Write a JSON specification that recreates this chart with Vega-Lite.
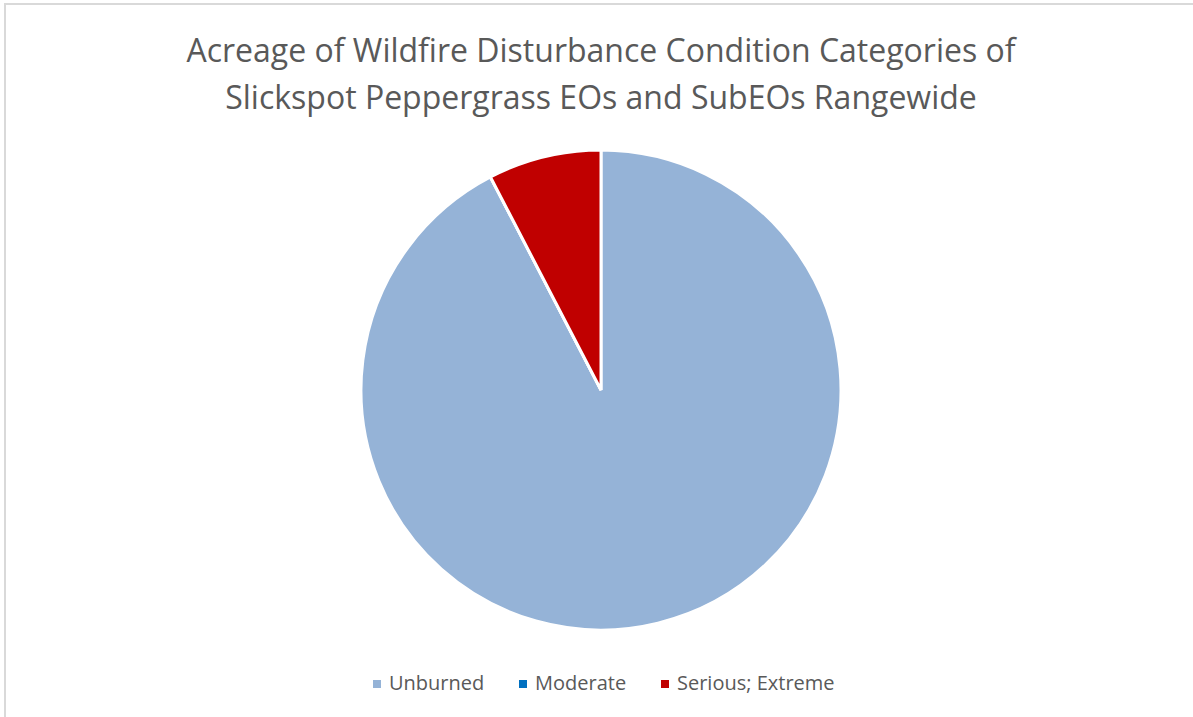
{
  "$schema": "https://vega.github.io/schema/vega-lite/v6.json",
  "autosize": {"type": "none"},
  "padding": {"left": 5, "top": 4, "right": 0, "bottom": 0},
  "width": 1192,
  "height": 772,
  "background": "white",
  "view": {"stroke": "#d9d9d9", "strokeWidth": 2},
  "title": {
    "text": ["Acreage of Wildfire Disturbance Condition Categories of", "Slickspot Peppergrass EOs and SubEOs Rangewide"],
    "orient": "top",
    "anchor": "middle",
    "frame": "group",
    "baseline": "top",
    "offset": 0,
    "dy": 112,
    "font": "Open Sans",
    "fontSize": 32,
    "fontWeight": "normal",
    "color": "#595959",
    "lineHeight": 47
  },
  "data": {
    "values": [
      {"category": "Unburned", "acres": 9238, "order": 1},
      {"category": "Moderate", "acres": 0, "order": 2},
      {"category": "Serious; Extreme", "acres": 762, "order": 3}
    ]
  },
  "mark": {"type": "arc", "outerRadius": 240, "stroke": "white", "strokeWidth": 3},
  "encoding": {
    "theta": {"field": "acres", "type": "quantitative", "stack": true},
    "order": {"field": "order", "type": "quantitative"},
    "color": {
      "field": "category",
      "type": "nominal",
      "scale": {
        "domain": ["Unburned", "Moderate", "Serious; Extreme"],
        "range": ["#95b3d7", "#0070c0", "#c00000"]
      },
      "legend": {
        "title": null,
        "orient": "none",
        "direction": "horizontal",
        "legendX": 362,
        "legendY": 670,
        "padding": 0,
        "symbolType": "square",
        "symbolSize": 64,
        "symbolStrokeWidth": 0,
        "labelFont": "Open Sans",
        "labelFontSize": 20,
        "labelColor": "#595959",
        "labelOffset": 2,
        "columnPadding": 28
      }
    }
  }
}
